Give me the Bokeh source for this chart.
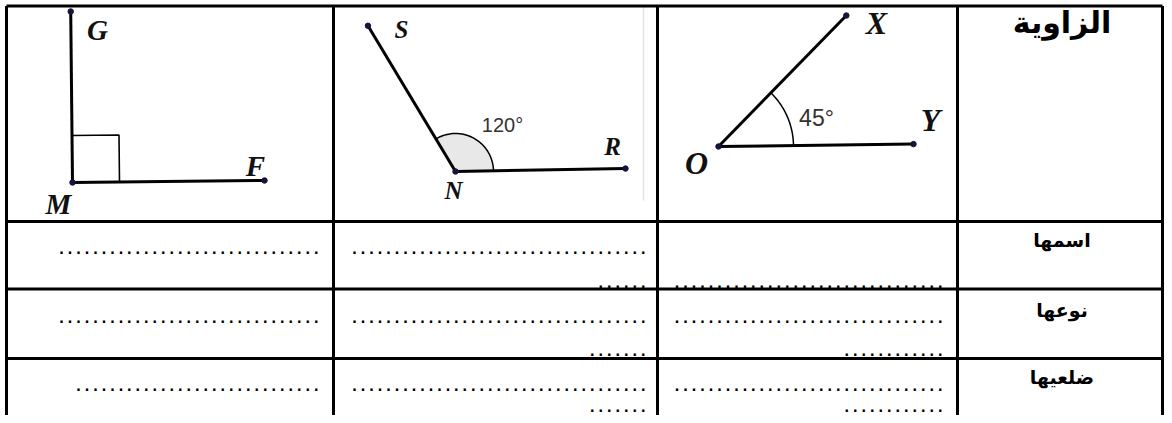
import numpy as np
from bokeh.plotting import figure
from bokeh.models import Range1d
from bokeh.core.properties import value
from bokeh.embed import file_html
from bokeh.resources import INLINE

# ---------------- data ----------------
header_label = "الزاوية"
row_labels = ["اسمها", "نوعها", "ضلعيها"]
angle_degrees = [90, 120, 45]
vertex_names = ["M", "N", "O"]
first_arm_names = ["F", "R", "Y"]
second_arm_names = ["G", "S", "X"]
shown_measures = ["", "120°", "45°"]
# number of dots in the fill-in blanks: [row][column], first and second line
blank_dots_first = [[31, 35, 0], [31, 35, 32], [29, 35, 32]]
blank_dots_second = [[0, 6, 32], [0, 7, 12], [0, 7, 12]]

# ---------------- layout ----------------
W, H = 1164, 415
col_edges = [6, 333, 657, 957, 1162]
row_edges = [5.5, 221, 288.5, 358]

vertex = [(72, 182), (455, 171), (718, 146)]
base_deg = [0.6, 1.0, 0.7]
len_first = [192, 170, 195]
len_second = [171, 170, 183]
arc_radius = [47, 38, 75]

vertex_label_pos = [(58, 203), (453, 190), (696, 162)]
first_label_pos = [(255, 165), (612, 146), (930, 119)]
second_label_pos = [(97, 29), (401, 29), (876, 22)]
label_size = ["29px", "25px", "32px"]
measure_pos = [(0, 0), (502, 124), (816, 117)]
measure_size = ["20px", "20px", "23px"]

dot_right = [320, 647, 944]
dot_line_y = [(248, 282), (317, 350), (385, 406)]

p = figure(width=W, height=H, output_backend="svg", toolbar_location=None,
           x_range=Range1d(0, W), y_range=Range1d(H, 0),
           x_axis_type=None, y_axis_type=None, min_border=0)
p.grid.visible = False
p.outline_line_color = None
p.background_fill_color = "white"
p.border_fill_color = "white"

# faint picture edge in the second cell
p.segment(x0=[643], y0=[6], x1=[643], y1=[200], line_color="#e3e3e3", line_width=1.5)

# ---------------- angles ----------------
for i in range(3):
    vx, vy = vertex[i]
    a1 = np.radians(base_deg[i])
    a2 = np.radians(base_deg[i] + angle_degrees[i])
    u1 = np.array([np.cos(a1), -np.sin(a1)])
    u2 = np.array([np.cos(a2), -np.sin(a2)])
    e1 = np.array([vx, vy]) + len_first[i] * u1
    e2 = np.array([vx, vy]) + len_second[i] * u2

    if angle_degrees[i] == 90:
        s = arc_radius[i]
        c1 = np.array([vx, vy]) + s * u1
        c2 = c1 + s * u2
        c3 = np.array([vx, vy]) + s * u2
        p.line([c1[0], c2[0], c3[0]], [c1[1], c2[1], c3[1]], line_color="black", line_width=1.6)
    else:
        th = np.linspace(a1, a2, 60)
        ax = vx + arc_radius[i] * np.cos(th)
        ay = vy - arc_radius[i] * np.sin(th)
        if angle_degrees[i] > 90:
            p.patch(np.concatenate([[vx], ax]), np.concatenate([[vy], ay]),
                    fill_color="#e8e8e8", line_color=None)
        p.line(ax, ay, line_color="black", line_width=1.5)

    p.multi_line([[vx, e1[0]], [vx, e2[0]]], [[vy, e1[1]], [vy, e2[1]]],
                 line_color="black", line_width=3)
    p.scatter([vx, e1[0], e2[0]], [vy, e1[1], e2[1]], size=5.5,
              fill_color="#14143c", line_color="#14143c")

    lx = [vertex_label_pos[i][0], first_label_pos[i][0], second_label_pos[i][0]]
    ly = [vertex_label_pos[i][1], first_label_pos[i][1], second_label_pos[i][1]]
    p.text(lx, ly, text=[vertex_names[i], first_arm_names[i], second_arm_names[i]],
           text_font=value("Liberation Serif"), text_font_style="bold italic",
           text_font_size=label_size[i], text_align="center", text_baseline="middle",
           text_color="#111111")
    if shown_measures[i]:
        p.text([measure_pos[i][0]], [measure_pos[i][1]], text=[shown_measures[i]],
               text_font=value("Liberation Sans"), text_font_size=measure_size[i],
               text_align="center", text_baseline="middle", text_color="#333333")

# ---------------- table ----------------
hx0 = [col_edges[0]] * len(row_edges)
hx1 = [col_edges[-1]] * len(row_edges)
p.segment(x0=hx0, y0=row_edges, x1=hx1, y1=row_edges, line_color="black", line_width=3)
p.segment(x0=col_edges, y0=[row_edges[0]] * len(col_edges), x1=col_edges,
          y1=[H + 5] * len(col_edges), line_color="black", line_width=3)

cx = (col_edges[3] + col_edges[4]) / 2 + 2
p.text([cx], [22], text=[header_label], text_font=value("DejaVu Sans"),
       text_font_style="bold", text_font_size="30px", text_align="center",
       text_baseline="middle", text_color="black")
p.text([cx] * 3, [239, 309, 376], text=row_labels, text_font=value("DejaVu Sans"),
       text_font_style="bold", text_font_size="19px", text_align="center",
       text_baseline="middle", text_color="black")

dx, dy, dt = [], [], []
for r in range(3):
    for c in range(3):
        for k, counts in enumerate((blank_dots_first, blank_dots_second)):
            n = counts[r][c]
            if n:
                dx.append(dot_right[c])
                dy.append(dot_line_y[r][k])
                dt.append("." * n)
p.text(dx, dy, text=dt, text_font=value("DejaVu Sans Mono"), text_font_size="14.12px",
       text_font_style="bold", text_align="right", text_baseline="alphabetic",
       text_color="black")

open("out.html", "w").write(file_html(p, INLINE))
